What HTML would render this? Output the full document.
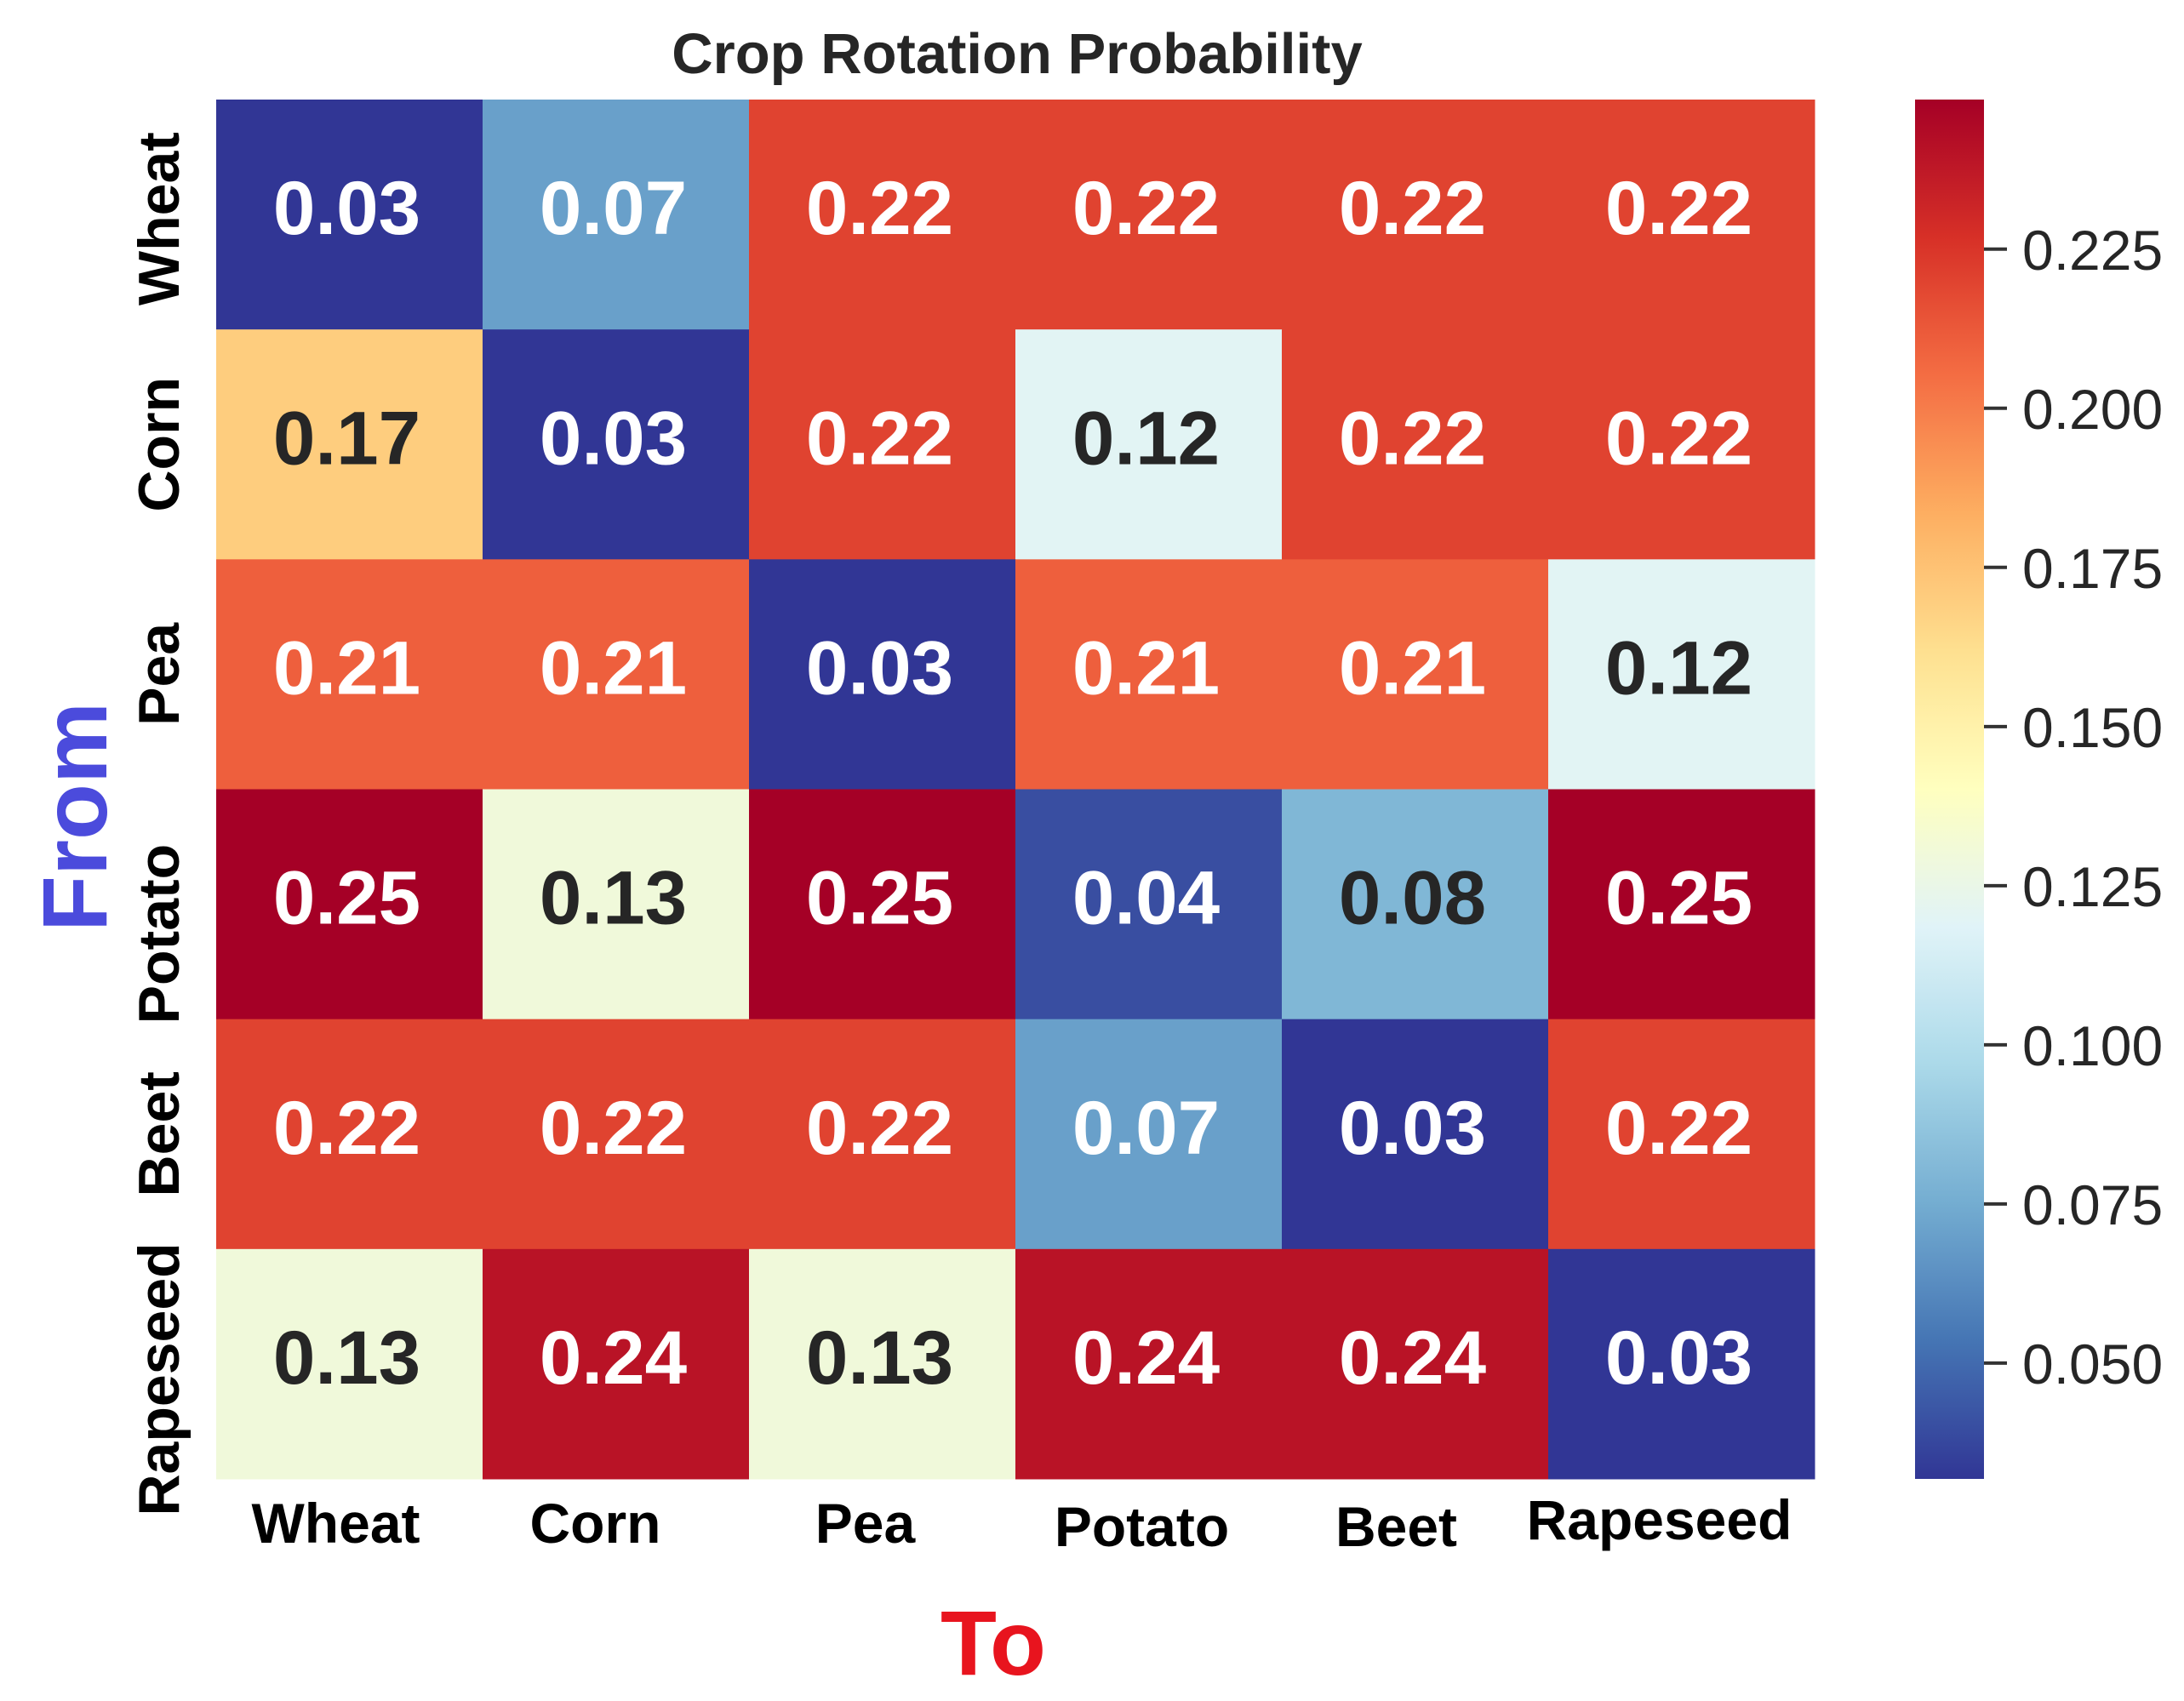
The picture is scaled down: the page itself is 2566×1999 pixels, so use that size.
<!DOCTYPE html>
<html><head><meta charset="utf-8"><style>
html,body{margin:0;padding:0;background:#fff}
svg{display:block}
text{font-family:"Liberation Sans",sans-serif}
</style></head><body>
<svg id="chart" width="2566" height="1999" viewBox="0 0 2566 1999">
<text x="1195" y="86" text-anchor="middle" font-size="67" font-weight="bold" fill="#262626">Crop Rotation Probability</text>
<g id="cells"></g>
<g id="ylabels"></g>
<g id="xlabels"></g>
<text transform="translate(125,960) rotate(-90)" text-anchor="middle" font-size="108" font-weight="bold" fill="#4b4bdc">From</text>
<text x="1167" y="1968" text-anchor="middle" font-size="108" font-weight="bold" fill="#e8141e">To</text>
<defs><linearGradient id="cbgrad" x1="0" y1="1" x2="0" y2="0"></linearGradient></defs>
<rect x="2250" y="117" width="81" height="1621" fill="url(#cbgrad)"/>
<g id="cbticks"></g>
</svg>
<script>
const categories=["Wheat","Corn","Pea","Potato","Beet","Rapeseed"];
const rowWheat=[0.03,0.07,0.22,0.22,0.22,0.22];
const rowCorn=[0.17,0.03,0.22,0.12,0.22,0.22];
const rowPea=[0.21,0.21,0.03,0.21,0.21,0.12];
const rowPotato=[0.25,0.13,0.25,0.04,0.08,0.25];
const rowBeet=[0.22,0.22,0.22,0.07,0.03,0.22];
const rowRapeseed=[0.13,0.24,0.13,0.24,0.24,0.03];
const colorbarTicks=[0.050,0.075,0.100,0.125,0.150,0.175,0.200,0.225];
const vmin=0.0318, vmax=0.2485;
const rows=[rowWheat,rowCorn,rowPea,rowPotato,rowBeet,rowRapeseed];
const NS="http://www.w3.org/2000/svg";
const L=254,R=2132,T=117,B=1738;
const cw=(R-L)/categories.length, ch=(B-T)/rows.length;
const stops=["#313695","#4575b4","#74add1","#abd9e9","#e0f3f8","#ffffbf","#fee090","#fdae61","#f46d43","#d73027","#a50026"];
function hex(h){return [1,3,5].map(i=>parseInt(h.substr(i,2),16));}
function cmap(v){let t=(v-vmin)/(vmax-vmin);t=Math.max(0,Math.min(1,t));const p=t*10,i=Math.min(9,Math.floor(p)),f=p-i;const a=hex(stops[i]),b=hex(stops[i+1]);return a.map((x,k)=>Math.round(x+(b[k]-x)*f));}
function lum(c){const s=c.map(x=>{x/=255;return x<=0.03928?x/12.92:Math.pow((x+0.055)/1.055,2.4);});return 0.2126*s[0]+0.7152*s[1]+0.0722*s[2];}
const xs=i=>L+i*cw, ys=j=>T+j*ch;
const cells=document.getElementById('cells');
rows.forEach((row,j)=>row.forEach((v,i)=>{
 const c=cmap(v);
 const r=document.createElementNS(NS,'rect');
 r.setAttribute('x',xs(i));r.setAttribute('y',ys(j));r.setAttribute('width',cw+0.5);r.setAttribute('height',ch+0.5);
 r.setAttribute('fill','rgb('+c.join(',')+')');
 
 
 cells.appendChild(r);
 const t=document.createElementNS(NS,'text');
 t.setAttribute('x',xs(i)+cw/2-3);t.setAttribute('y',ys(j)+ch/2+23);
 t.setAttribute('text-anchor','middle');t.setAttribute('font-size','89');t.setAttribute('font-weight','bold');
 t.setAttribute('fill',lum(c)>0.408?'#262626':'#ffffff');
 t.textContent=v.toFixed(2);
 
 
 cells.appendChild(t);
}));
const yl=document.getElementById('ylabels');
const ylOff=[5,0,0,35,0,18];
categories.forEach((c,j)=>{
 const t=document.createElementNS(NS,'text');
 t.setAttribute('transform','translate(210,'+(ys(j)+ch/2+ylOff[j])+') rotate(-90)');
 t.setAttribute('text-anchor','middle');t.setAttribute('font-size','68');t.setAttribute('font-weight','bold');t.setAttribute('fill','#000');
 t.textContent=c;
 
 
 yl.appendChild(t);
});
const xl=document.getElementById('xlabels');
const xoff=[-16,-24,-20,-8,-22,-26], yoff=[0,0,0,4,4,-4];
categories.forEach((c,i)=>{
 const t=document.createElementNS(NS,'text');
 t.setAttribute('x',xs(i)+cw/2+xoff[i]);t.setAttribute('y',1813+yoff[i]);
 t.setAttribute('text-anchor','middle');t.setAttribute('font-size','66');t.setAttribute('font-weight','bold');t.setAttribute('fill','#000');
 t.textContent=c;
 
 
 xl.appendChild(t);
});
const g=document.getElementById('cbgrad');
for(let k=0;k<=40;k++){const v=vmin+(vmax-vmin)*k/40;const s=document.createElementNS(NS,'stop');s.setAttribute('offset',k/40);s.setAttribute('stop-color','rgb('+cmap(v).join(',')+')');g.appendChild(s);}
const cb=document.getElementById('cbticks');
const cy=v=>B-(v-vmin)/(vmax-vmin)*(B-T);
colorbarTicks.forEach(v=>{
 const l=document.createElementNS(NS,'line');
 l.setAttribute('x1',2331);l.setAttribute('x2',2358);l.setAttribute('y1',cy(v));l.setAttribute('y2',cy(v));
 l.setAttribute('stroke','#333');l.setAttribute('stroke-width','4');
 
 
 cb.appendChild(l);
 const t=document.createElementNS(NS,'text');
 t.setAttribute('x',2376);t.setAttribute('y',cy(v)+24);
 t.setAttribute('font-size','66');t.setAttribute('fill','#262626');
 t.textContent=v.toFixed(3);
 
 
 cb.appendChild(t);
});
</script>
</body></html>
